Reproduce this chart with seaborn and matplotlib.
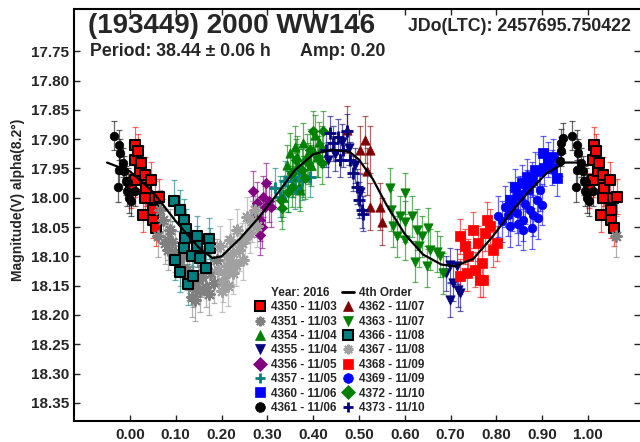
import numpy as np
import pandas as pd
import matplotlib
matplotlib.use("Agg")
import matplotlib.pyplot as plt
from matplotlib.lines import Line2D
import seaborn as sns

# phase / magnitude per session
ph_4350 = [0.003, 0.010, 0.010, 0.012, 0.017, 0.021, 0.025, 0.028, 0.032, 0.032, 0.036, 0.047, 0.050, 0.050, 0.054, 0.057, 0.063]
mag_4350 = [17.987, 17.935, 17.969, 17.910, 17.921, 17.955, 17.941, 18.029, 17.961, 18.001, 17.984, 17.969, 18.021, 18.038, 18.001, 18.052, 17.998]
ph_4351 = [0.061, 0.066, 0.072, 0.076, 0.083, 0.084, 0.087, 0.092, 0.098, 0.109, 0.115, 0.124, 0.130, 0.135, 0.138, 0.143,
           0.149, 0.153, 0.158, 0.160, 0.167, 0.172, 0.178, 0.183, 0.189]
mag_4351 = [18.066, 18.021, 18.038, 18.078, 18.089, 18.072, 18.055, 18.075, 18.092, 18.115, 18.100, 18.123, 18.140, 18.169, 18.152, 18.175,
            18.140, 18.160, 18.135, 18.117, 18.152, 18.165, 18.129, 18.145, 18.106]
ph_4354 = [0.335, 0.342, 0.349, 0.357, 0.360, 0.364, 0.367, 0.368, 0.371, 0.378, 0.378, 0.386, 0.395, 0.400, 0.404, 0.408, 0.412, 0.419]
mag_4354 = [17.998, 17.945, 17.924, 17.964, 17.913, 17.930, 17.944, 17.981, 17.987, 17.907, 17.964, 17.927, 17.945, 17.918, 17.893, 17.930, 17.905, 17.913]
ph_4355 = [0.432, 0.447, 0.462, 0.478, 0.491, 0.503, 0.691, 0.699, 0.699, 0.706, 0.713, 0.717, 0.721]
mag_4355 = [17.935, 17.925, 17.905, 17.915, 17.945, 17.990, 18.129, 18.115, 18.174, 18.146, 18.117, 18.157, 18.163]
ph_4356 = [0.268, 0.269, 0.277, 0.284, 0.284, 0.288, 0.291, 0.295, 0.298, 0.304, 0.309]
mag_4356 = [17.989, 18.032, 18.009, 18.038, 18.063, 18.050, 17.998, 18.015, 17.975, 18.006, 18.015]
ph_4357 = [0.317, 0.328, 0.338, 0.346, 0.353, 0.360, 0.368, 0.375, 0.393]
mag_4357 = [17.984, 17.998, 17.972, 17.989, 17.964, 17.984, 17.952, 17.969, 17.964]
ph_4360 = [0.830, 0.841, 0.848, 0.855, 0.866, 0.870, 0.877, 0.884, 0.892, 0.902, 0.905, 0.913, 0.921, 0.924, 0.932]
mag_4360 = [18.004, 17.981, 17.995, 17.975, 17.964, 17.985, 17.969, 17.952, 17.955, 17.924, 17.950, 17.935, 17.949, 17.930, 17.967]
ph_4361 = [0.939, 0.940, 0.941, 0.946, 0.966, 0.974, 0.977, 0.977, 0.979, 0.985, 0.988, 0.991, 0.993, 0.996, 0.997, 0.003, 0.010]
mag_4361 = [17.938, 17.921, 17.907, 17.898, 17.894, 17.982, 17.910, 17.952, 17.924, 17.940, 17.954, 17.971, 17.989, 17.974, 18.001, 18.006, 17.989]
ph_4362 = [0.473, 0.502, 0.513, 0.517, 0.524, 0.524, 0.546, 0.550]
mag_4362 = [17.884, 17.918, 17.901, 17.955, 17.918, 18.015, 18.015, 18.041]
ph_4363 = [0.568, 0.571, 0.575, 0.582, 0.590, 0.600, 0.600, 0.600, 0.615, 0.622, 0.626, 0.630, 0.637, 0.648, 0.651, 0.655, 0.670, 0.677, 0.684]
mag_4363 = [17.984, 18.021, 18.049, 18.066, 18.032, 17.992, 18.041, 18.072, 18.032, 18.109, 18.055, 18.083, 18.066, 18.117, 18.052, 18.089, 18.092, 18.100, 18.129]
ph_4366 = [0.096, 0.098, 0.110, 0.109, 0.118, 0.122, 0.120, 0.118, 0.127, 0.135, 0.138, 0.146, 0.147, 0.153, 0.167, 0.172, 0.175]
mag_4366 = [18.005, 18.106, 18.021, 18.126, 18.038, 18.054, 18.069, 18.086, 18.148, 18.100, 18.134, 18.066, 18.083, 18.103, 18.120, 18.070, 18.086]
ph_4367 = [0.193, 0.197, 0.200, 0.204, 0.208, 0.211, 0.211, 0.215, 0.218, 0.222, 0.226, 0.226, 0.232, 0.233, 0.238,
           0.244, 0.247, 0.252, 0.255, 0.262, 0.266, 0.273, 0.277]
mag_4367 = [18.123, 18.083, 18.160, 18.143, 18.130, 18.100, 18.117, 18.150, 18.072, 18.112, 18.095, 18.129, 18.115, 18.055, 18.090,
            18.078, 18.106, 18.070, 18.033, 18.060, 18.040, 18.021, 18.049]
ph_4368 = [0.721, 0.721, 0.731, 0.735, 0.739, 0.750, 0.753, 0.760, 0.764, 0.768, 0.771, 0.775, 0.779, 0.786, 0.793, 0.801]
mag_4368 = [18.066, 18.134, 18.083, 18.129, 18.100, 18.055, 18.123, 18.078, 18.140, 18.112, 18.140, 18.061, 18.038, 18.049, 18.089, 18.078]
ph_4369 = [0.804, 0.812, 0.819, 0.826, 0.830, 0.833, 0.837, 0.844, 0.848, 0.852, 0.859, 0.859, 0.862, 0.866, 0.873, 0.877,
           0.881, 0.888, 0.891, 0.895, 0.899]
mag_4369 = [18.032, 18.040, 18.015, 18.030, 18.049, 18.021, 18.009, 18.026, 18.045, 17.998, 18.038, 18.055, 18.010, 17.987, 18.021, 18.052,
            18.030, 18.004, 18.035, 17.987, 18.012]
ph_4372 = [0.329, 0.333, 0.345, 0.353, 0.353, 0.362, 0.375, 0.382, 0.389, 0.393, 0.400, 0.410, 0.419, 0.422]
mag_4372 = [18.004, 18.018, 17.990, 17.981, 17.958, 17.935, 17.952, 17.967, 17.941, 17.918, 17.887, 17.930, 17.941, 17.887]
ph_4373 = [0.429, 0.437, 0.444, 0.455, 0.459, 0.466, 0.473, 0.480, 0.488, 0.495, 0.499, 0.506, 0.509]
mag_4373 = [17.918, 17.890, 17.907, 17.896, 17.935, 17.918, 17.887, 17.935, 17.958, 17.981, 18.004, 18.021, 18.027]

labels = ["4350 - 11/03", "4351 - 11/03", "4354 - 11/04", "4355 - 11/04",
          "4356 - 11/05", "4357 - 11/05", "4360 - 11/06", "4361 - 11/06",
          "4362 - 11/07", "4363 - 11/07", "4366 - 11/08", "4367 - 11/08",
          "4368 - 11/09", "4369 - 11/09", "4372 - 11/10", "4373 - 11/10"]
errors = [0.03, 0.035, 0.035, 0.03, 0.035, 0.035, 0.03, 0.025,
          0.04, 0.035, 0.035, 0.035, 0.03, 0.035, 0.035, 0.03]

# 4th order fit
fit_phase = [-0.05, 0.0, 0.05, 0.10, 0.15, 0.18, 0.20, 0.24, 0.28, 0.32, 0.36, 0.40, 0.44, 0.48,
             0.50, 0.53, 0.56, 0.60, 0.64, 0.68, 0.71, 0.75, 0.79, 0.83, 0.87, 0.91, 0.95, 0.98, 1.00]
fit_mag = [17.940, 17.955, 17.990, 18.040, 18.085, 18.103, 18.100, 18.070, 18.035, 17.995, 17.953, 17.926, 17.918, 17.922,
           17.935, 17.968, 18.012, 18.062, 18.097, 18.114, 18.117, 18.104, 18.068, 18.027, 17.990, 17.958, 17.940, 17.940, 17.945]

phases = [ph_4350, ph_4351, ph_4354, ph_4355, ph_4356, ph_4357, ph_4360, ph_4361,
          ph_4362, ph_4363, ph_4366, ph_4367, ph_4368, ph_4369, ph_4372, ph_4373]
mags = [mag_4350, mag_4351, mag_4354, mag_4355, mag_4356, mag_4357, mag_4360, mag_4361,
        mag_4362, mag_4363, mag_4366, mag_4367, mag_4368, mag_4369, mag_4372, mag_4373]

ast = (8, 2, 0)
# color, marker, size, edgecolor, linewidth
styles = [("#ff0000", "s", 50, "black", 1.5),
          ("#808080", ast, 60, None, 1.5),
          ("#008000", "^", 45, "#008000", 0.5),
          ("#000080", "v", 45, "#000080", 0.5),
          ("#800080", "D", 28, "#800080", 0.5),
          ("#008080", "+", 70, None, 2.0),
          ("#0000ff", "s", 45, "#0000ff", 0.5),
          ("#000000", "o", 38, "#000000", 0.5),
          ("#800000", "^", 45, "#800000", 0.5),
          ("#008000", "v", 45, "#008000", 0.5),
          ("#008080", "s", 50, "black", 1.5),
          ("#a0a0a0", ast, 60, None, 1.5),
          ("#ff0000", "s", 45, "#ff0000", 0.5),
          ("#0000ff", "o", 38, "#0000ff", 0.5),
          ("#008000", "D", 28, "#008000", 0.5),
          ("#000080", "+", 70, None, 2.0)]


def wrap(ph, mag):
    ph = np.asarray(ph)
    mag = np.asarray(mag)
    p = np.concatenate([ph - 1, ph, ph + 1])
    m = np.tile(mag, 3)
    keep = (p >= -0.05) & (p <= 1.065)
    return p[keep], m[keep]


sns.set_style("ticks")
plt.rcParams['font.family'] = ['Liberation Sans', 'DejaVu Sans']
plt.rcParams['font.weight'] = 'bold'
plt.rcParams['axes.labelweight'] = 'bold'

fig = plt.figure(figsize=(6.4, 4.42), dpi=100)
ax = fig.add_axes([0.115, 0.0475, 0.885, 0.9321])

for lab, ph, mg, er, st in zip(labels, phases, mags, errors, styles):
    p, m = wrap(ph, mg)
    df = pd.DataFrame({"phase": p, "mag": m})
    col, mk, s, ec, lw = st
    ax.errorbar(df["phase"], df["mag"], yerr=er, fmt="none", ecolor=col, alpha=0.6,
                elinewidth=0.9, capsize=2.5, capthick=0.9, zorder=1)
    kw = dict(color=col, marker=mk, s=s, linewidth=lw, zorder=2)
    if ec is not None:
        kw["edgecolor"] = ec
    sns.scatterplot(data=df, x="phase", y="mag", ax=ax, legend=False, **kw)

sns.lineplot(x=fit_phase, y=fit_mag, ax=ax, color="black", lw=1.6, sort=False, zorder=3)

ax.set_xlim(-0.123, 1.1135)
ax.set_ylim(18.381, 17.678)
ax.set_xticks(np.arange(0, 1.01, 0.1))
ax.set_xticklabels([f"{v:.2f}" for v in np.arange(0, 1.01, 0.1)])
ax.set_yticks(np.arange(17.75, 18.36, 0.05))
ax.set_yticklabels([f"{v:.2f}" for v in np.arange(17.75, 18.36, 0.05)])
ax.tick_params(direction="in", length=4, width=1, top=True, right=True, labelsize=11)
ax.tick_params(axis="y", pad=3)
ax.tick_params(axis="x", pad=5)
ax.set_xlabel("")
ax.set_ylabel("")
for sp in ["left", "bottom", "top"]:
    ax.spines[sp].set_linewidth(1.5)
    ax.spines[sp].set_color("black")
ax.spines["right"].set_visible(False)

fig.text(0.028, 0.5475, "Magnitude(V) alpha(8.2°)", rotation=90, ha="center", va="center", fontsize=10)
fig.text(0.1375, 0.9253, "(193449) 2000 WW146", fontsize=20, va="baseline")
fig.text(0.6375, 0.930, "JDo(LTC): 2457695.750422", fontsize=12.8, va="baseline")
fig.text(0.1406, 0.873, "Period: 38.44 ± 0.06 h", fontsize=12.8, va="baseline")
fig.text(0.469, 0.873, "Amp: 0.20", fontsize=12.8, va="baseline")

handles = [Line2D([], [], linestyle="none")]
for st in styles[:8]:
    col, mk, s, ec, lw = st
    handles.append(Line2D([], [], linestyle="none", marker=mk, color=col, markersize=7,
                          markeredgecolor=ec if ec else col, markeredgewidth=lw if lw > 0.5 else 0.5))
handles.append(Line2D([], [], color="black", lw=2))
for st in styles[8:]:
    col, mk, s, ec, lw = st
    handles.append(Line2D([], [], linestyle="none", marker=mk, color=col, markersize=7,
                          markeredgecolor=ec if ec else col, markeredgewidth=lw if lw > 0.5 else 0.5))
leg_labels = ["Year: 2016"] + labels[:8] + ["4th Order"] + labels[8:]
ax.legend(handles, leg_labels, ncol=2, loc="upper left", bbox_to_anchor=(0.388, 0.364),
          bbox_transform=fig.transFigure, frameon=False, fontsize=8.5, borderpad=0,
          handlelength=1.0, handletextpad=0.4, columnspacing=0.5, labelspacing=0.2)

plt.savefig("out.png", dpi=100)
